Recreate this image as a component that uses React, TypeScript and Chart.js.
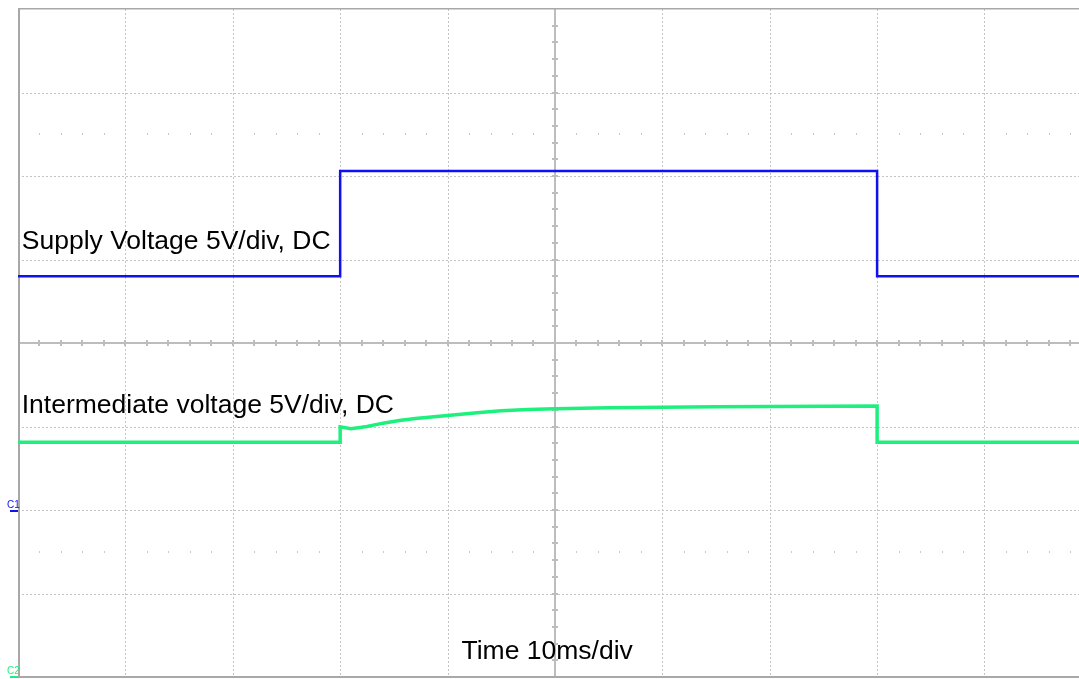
import React, { useEffect, useRef } from "react";
import { Chart, registerables } from "chart.js";

Chart.register(...registerables);

// Scope settings
const MS_PER_DIV = 10;
const VOLTS_PER_DIV = 5;
const X_VISIBLE_MS = 98.8; // screenshot is cropped a bit before the 10th division
const H_DIVS = 10;
const V_DIVS = 8;

// Channel 1 : supply voltage (ground marker C1 at -2 div)
const supplyTimes = [0, 30, 30, 80, 80, 98.8];
const supplyVolts = [14.0, 14.0, 20.3, 20.3, 14.0, 14.0];

// Channel 2 : intermediate voltage (ground marker C2 at -4 div)
const interTimes = [0, 30, 30, 31, 32.5, 34, 35.5, 37, 39, 41, 43, 45, 47.5, 50, 55, 60, 65, 70, 75, 80, 80, 98.8];
const interVolts = [14.05, 14.05, 14.98, 14.87, 15.0, 15.2, 15.36, 15.48, 15.6, 15.72, 15.84, 15.94, 16.02, 16.07, 16.12, 16.16, 16.18, 16.2, 16.21, 16.22, 14.05, 14.05];

// Annotation texts
const labelTexts = ["Supply Voltage 5V/div, DC", "Intermediate voltage 5V/div, DC", "Time 10ms/div"];
const labelTimes = [0.35, 0.35, 41.3];
const labelDivs = [1.12, -0.84, -3.78];

const channelNames = ["C1", "C2"];

const SUPPLY_COLOR = "#1010f0";
const INTER_COLOR = "#1ef07e";

const scopePlugin = {
  id: "scopeGrid",
  beforeDatasetsDraw(chart: any) {
    const { ctx, chartArea, scales } = chart;
    const x = scales.x;
    const y = scales.y1;
    const { left, right, top, bottom } = chartArea;
    const divToV = (d: number) => 10 + d * VOLTS_PER_DIV;
    ctx.save();
    // dotted grid
    ctx.strokeStyle = "#c4c4c4";
    ctx.lineWidth = 1;
    ctx.setLineDash([2, 2]);
    for (let i = 1; i < H_DIVS; i++) {
      if (i === H_DIVS / 2) continue;
      const px = Math.round(x.getPixelForValue(i * MS_PER_DIV)) + 0.5;
      if (px > right) continue;
      ctx.beginPath();
      ctx.moveTo(px, top);
      ctx.lineTo(px, bottom);
      ctx.stroke();
    }
    for (let d = -3; d <= 3; d++) {
      if (d === 0) continue;
      const py = Math.round(y.getPixelForValue(divToV(d))) + 0.5;
      ctx.beginPath();
      ctx.moveTo(left, py);
      ctx.lineTo(right, py);
      ctx.stroke();
    }
    ctx.setLineDash([]);
    // minor dot rows at +-2.5 div
    ctx.fillStyle = "#c8c8c8";
    for (const d of [2.5, -2.5]) {
      const py = Math.round(y.getPixelForValue(divToV(d)));
      for (let k = 1; k < H_DIVS * 5; k++) {
        if (k % 5 === 0) continue;
        const px = Math.round(x.getPixelForValue((k * MS_PER_DIV) / 5));
        if (px > right) continue;
        ctx.fillRect(px, py - 1, 1, 2);
      }
    }
    // center cross
    const cx = Math.round(x.getPixelForValue((H_DIVS / 2) * MS_PER_DIV));
    const cy = Math.round(y.getPixelForValue(divToV(0)));
    ctx.fillStyle = "#bdbdbd";
    ctx.fillRect(left, cy - 1, right - left, 2);
    ctx.fillRect(cx - 1, top, 2, bottom - top);
    for (let k = 1; k < H_DIVS * 5; k++) {
      const px = Math.round(x.getPixelForValue((k * MS_PER_DIV) / 5));
      if (px > right - 1) continue;
      ctx.fillRect(px - 1, cy - 3, 2, 6);
    }
    for (let k = -V_DIVS * 5 / 2 + 1; k < V_DIVS * 5 / 2; k++) {
      const py = Math.round(y.getPixelForValue(divToV(k / 5)));
      ctx.fillRect(cx - 3, py - 1, 6, 2);
    }
    // frame
    ctx.fillStyle = "#a8a8a8";
    ctx.fillRect(left, top, 2, bottom - top);
    ctx.fillRect(left, top - 1, right - left, 1.5);
    ctx.fillRect(left, bottom - 1, right - left, 2);
    ctx.restore();
  },
  afterDatasetsDraw(chart: any) {
    const { ctx, chartArea, scales } = chart;
    const x = scales.x;
    const y = scales.y1;
    ctx.save();
    ctx.fillStyle = "#000";
    ctx.font = "26.5px 'Liberation Sans', Arial, sans-serif";
    ctx.textBaseline = "alphabetic";
    labelTexts.forEach((t, i) => {
      ctx.fillText(t, x.getPixelForValue(labelTimes[i]), y.getPixelForValue(10 + labelDivs[i] * VOLTS_PER_DIV));
    });
    // channel ground markers
    const markers = [
      { scale: scales.y1, color: SUPPLY_COLOR, name: channelNames[0] },
      { scale: scales.y2, color: INTER_COLOR, name: channelNames[1] },
    ];
    ctx.font = "10px 'Liberation Sans', Arial, sans-serif";
    markers.forEach((m) => {
      const py = Math.round(Math.min(m.scale.getPixelForValue(0), chartArea.bottom - 1));
      ctx.fillStyle = m.color;
      ctx.fillText(m.name, 7, py - 2);
      ctx.fillRect(10, py, 8, 2);
    });
    ctx.restore();
  },
};

export default function App() {
  const ref = useRef<HTMLCanvasElement | null>(null);
  useEffect(() => {
    if (!ref.current) return;
    const chart = new Chart(ref.current, {
      type: "line",
      data: {
        datasets: [
          {
            label: "Supply Voltage",
            data: supplyTimes.map((t, i) => ({ x: t, y: supplyVolts[i] })),
            borderColor: SUPPLY_COLOR,
            borderWidth: 2.5,
            pointRadius: 0,
            yAxisID: "y1",
          },
          {
            label: "Intermediate voltage",
            data: interTimes.map((t, i) => ({ x: t, y: interVolts[i] })),
            borderColor: INTER_COLOR,
            borderWidth: 3.5,
            pointRadius: 0,
            yAxisID: "y2",
          },
        ],
      },
      options: {
        responsive: false,
        animation: false,
        devicePixelRatio: 1,
        layout: { padding: { left: 18, top: 9, right: 0, bottom: 2 } },
        plugins: { legend: { display: false }, tooltip: { enabled: false } },
        scales: {
          x: { type: "linear", min: 0, max: X_VISIBLE_MS, display: false },
          y1: { type: "linear", min: -2 * VOLTS_PER_DIV, max: 6 * VOLTS_PER_DIV, display: false },
          y2: { type: "linear", min: 0, max: V_DIVS * VOLTS_PER_DIV, display: false },
        },
      },
      plugins: [scopePlugin],
    });
    return () => chart.destroy();
  }, []);
  return (
    <div style={{ position: "fixed", left: 0, top: 0, width: 1079, height: 679, background: "#fff" }}>
      <canvas ref={ref} width={1079} height={679} style={{ display: "block" }} />
    </div>
  );
}
